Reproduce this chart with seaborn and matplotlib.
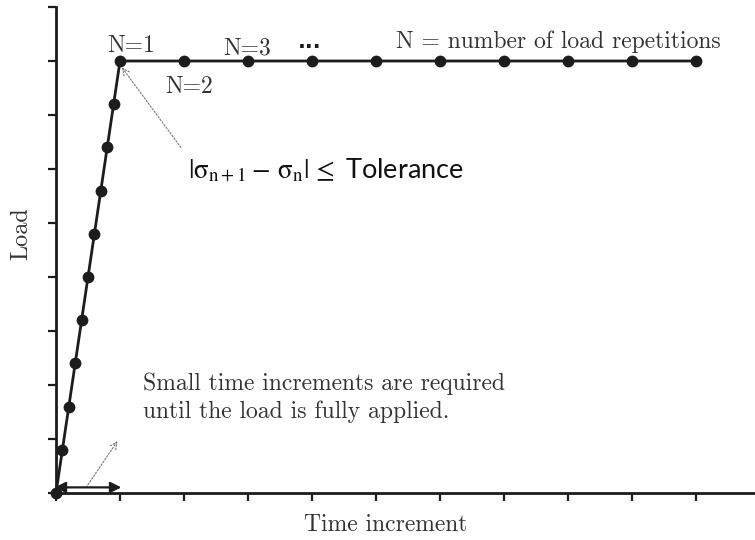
import numpy as np
import pandas as pd
import matplotlib
matplotlib.use("Agg")
import matplotlib.pyplot as plt
import seaborn as sns

# Load history: ramp in ten small steps, then repeated full load
ramp_time = [0.0, 0.1, 0.2, 0.3, 0.4, 0.5, 0.6, 0.7, 0.8, 0.9, 1.0]
ramp_load = [0.0, 0.1, 0.2, 0.3, 0.4, 0.5, 0.6, 0.7, 0.8, 0.9, 1.0]
repeat_time = [2, 3, 4, 5, 6, 7, 8, 9, 10]
repeat_load = [1.0, 1.0, 1.0, 1.0, 1.0, 1.0, 1.0, 1.0, 1.0]
x_ticks = [0, 1, 2, 3, 4, 5, 6, 7, 8, 9, 10]
y_ticks = [0, 0.125, 0.25, 0.375, 0.5, 0.625, 0.75, 0.875, 1.0, 1.125]

df = pd.DataFrame({"time": ramp_time + repeat_time,
                   "load": ramp_load + repeat_load})

sns.set_theme(style="ticks")
plt.rcParams["font.family"] = ["cmr10", "DejaVu Serif"]
plt.rcParams["mathtext.fontset"] = "cm"

ink = "#1c1c1c"
grey_text = "#333333"
fs = 17

fig = plt.figure(figsize=(7.55, 5.4), dpi=100)
ax = fig.add_axes([56 / 755, 47 / 540, 699 / 755, 486 / 540])

sns.lineplot(data=df, x="time", y="load", ax=ax, color=ink, linewidth=2.0,
             marker="o", markersize=8.5, markeredgewidth=0,
             markerfacecolor=ink, clip_on=False, sort=False)

ax.set_xlim(0, 10.92)
ax.set_ylim(0, 1.125)
ax.set_xticks(x_ticks)
ax.set_yticks(y_ticks)
ax.set_xticklabels([])
ax.set_yticklabels([])
ax.set_xlabel("")
ax.set_ylabel("")
sns.despine(ax=ax)
for s in ("left", "bottom"):
    ax.spines[s].set_linewidth(2.0)
    ax.spines[s].set_color(ink)
ax.tick_params(axis="both", length=6, width=1.6, color=ink, direction="out")

# Axis titles
fig.text(386 / 755, 1 - 525 / 540, "Time increment", ha="center", va="center",
         fontsize=fs, color=grey_text)
fig.text(21 / 755, 1 - 234 / 540, "Load", ha="center", va="center",
         rotation=90, fontsize=fs + 0.5, color=grey_text)

# Repetition labels
ax.text(1.17, 1.021, "N=1", ha="center", va="baseline", fontsize=fs, color=grey_text)
ax.text(2.08, 0.925, "N=2", ha="center", va="baseline", fontsize=fs, color=grey_text)
ax.text(2.98, 1.014, "N=3", ha="center", va="baseline", fontsize=fs, color=grey_text)
ax.text(3.97, 1.03, "...", ha="center", va="baseline", fontsize=fs - 2,
        color=ink, fontweight="bold", family="DejaVu Sans")
ax.text(7.85, 1.03, "N = number of load repetitions", ha="center", va="baseline",
        fontsize=fs, color=grey_text)

# Convergence criterion
ax.text(2.06, 0.731,
        r"$|\mathrm{\sigma}_{\mathrm{n+1}}-\,\mathrm{\sigma}_{\mathrm{n}}|\,\leq$ Tolerance",
        ha="left", va="baseline", fontsize=19.5, color="#111111",
        family=["Lato", "DejaVu Sans"], math_fontfamily="stix")
ax.annotate("", xy=(1.03, 0.985), xytext=(1.95, 0.80),
            arrowprops=dict(arrowstyle="->", color="#777777", lw=0.8,
                            linestyle=(0, (1.5, 1.5)), shrinkA=0, shrinkB=0))

# Note on the ramp
ax.text(1.36, 0.238, "Small time increments are required",
        ha="left", va="baseline", fontsize=fs, color=grey_text)
ax.text(1.36, 0.174, "until the load is fully applied.",
        ha="left", va="baseline", fontsize=fs, color=grey_text)
ax.annotate("", xy=(0.96, 0.12), xytext=(0.47, 0.013),
            arrowprops=dict(arrowstyle="->", color="#777777", lw=0.8,
                            linestyle=(0, (1.5, 1.5)), shrinkA=0, shrinkB=0))
ax.annotate("", xy=(1.02, 0.013), xytext=(-0.02, 0.013),
            arrowprops=dict(arrowstyle="<|-|>", color=ink, lw=1.6,
                            mutation_scale=16, shrinkA=0, shrinkB=0),
            annotation_clip=False)

fig.savefig("out.png", dpi=100)
